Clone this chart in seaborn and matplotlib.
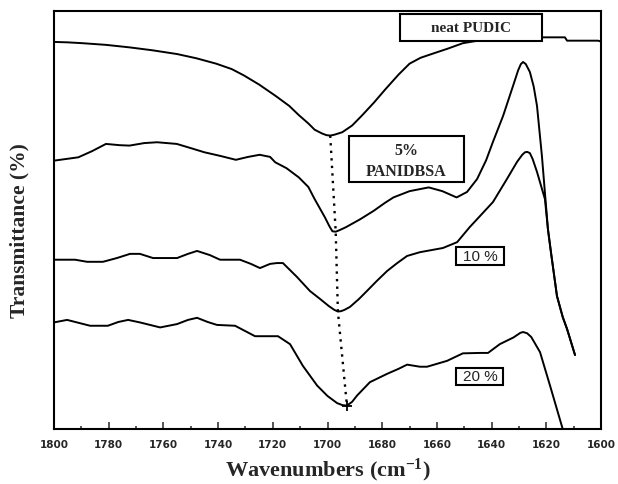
import numpy as np
import seaborn as sns
from matplotlib import pyplot as plt
from matplotlib.patches import Rectangle

# wavenumber (cm-1) / transmittance (arb. %, 0 = bottom of frame, 100 = top)
NEAT_WN = [1800, 1795, 1789.6, 1781, 1772.4, 1764, 1755, 1748, 1740.7, 1735, 1730.6, 1725,
           1719, 1714, 1710.5, 1707, 1704.7, 1702, 1700.4, 1699, 1697.5, 1694.6, 1691, 1687.4,
           1683, 1678.8, 1674, 1670, 1666, 1661.5, 1656, 1650.5, 1645, 1635, 1622,
           1613.2, 1612.4, 1601.1, 1600]
NEAT_T = [92.6, 92.5, 92.3, 91.9, 91.3, 90.6, 89.7, 88.7, 87.4, 86.1, 84.6, 82.4,
          79.7, 77.3, 75.1, 73.1, 71.6, 70.7, 70.3, 70.2, 70.4, 71.0, 72.6, 75.0,
          78.1, 81.3, 84.8, 87.4, 88.8, 89.8, 91.0, 92.3, 92.9, 93.3, 93.7,
          93.7, 92.9, 92.9, 92.7]

P5_WN = [1800, 1791.1, 1786, 1781, 1776, 1772.4, 1767, 1762.3, 1755.1, 1750, 1745, 1739,
         1733.5, 1729, 1724.8, 1721, 1719.1, 1715, 1710.5, 1707, 1704.7, 1701, 1699.3,
         1698.2, 1697, 1695.5, 1693.2, 1688, 1683.1, 1679, 1675.9, 1670, 1663, 1658,
         1652.8, 1649, 1645.3, 1642, 1639.5, 1635.8, 1632, 1630.3, 1629.3, 1628.5, 1627.5,
         1626, 1624.6, 1623.4, 1621.6, 1620.1, 1619.4, 1618.3, 1616.1, 1614, 1612.4, 1609.5]
P5_T = [64.2, 65.0, 66.5, 68.2, 67.9, 67.8, 68.4, 68.6, 68.2, 67.2, 66.2, 65.3,
        64.4, 65.1, 65.6, 65.1, 63.8, 62.4, 60.2, 57.9, 55.0, 50.7, 48.5,
        47.3, 47.2, 47.6, 48.3, 50.2, 52.2, 54.1, 55.4, 56.9, 57.8, 56.9,
        55.4, 56.7, 59.8, 64.3, 68.7, 74.9, 82.4, 85.8, 87.3, 87.8, 87.3,
        85.4, 81.9, 77.3, 65.3, 53.3, 47.8, 42.3, 31.8, 26.8, 23.9, 17.7]

P10_WN = [1800, 1792.3, 1787.9, 1782.1, 1777, 1772.2, 1768.6, 1763.8, 1755, 1751, 1747.7,
          1743, 1739.3, 1732, 1728, 1724.7, 1721, 1718.5, 1716.3, 1711.2, 1706.4, 1702.7,
          1699.5, 1697.5, 1696.2, 1695, 1693.8, 1691.8, 1688.5, 1685.6, 1682, 1678.2, 1674.5,
          1670.9, 1666.2, 1662, 1657.8, 1652.6, 1648, 1645.3, 1639.5, 1634.4, 1630.7, 1628.8,
          1627.8, 1627, 1626, 1625, 1623.4, 1620.5, 1619.4, 1618.3, 1616.1, 1614, 1612.4, 1609.5]
P10_T = [40.5, 40.5, 40.0, 40.0, 40.9, 41.9, 41.9, 40.9, 40.9, 41.9, 42.6,
         41.6, 40.5, 40.5, 39.5, 38.5, 39.5, 39.7, 39.7, 36.4, 33.0, 31.1,
         29.4, 28.5, 28.1, 28.2, 28.5, 29.2, 31.1, 33.0, 35.4, 37.8, 39.7,
         41.4, 42.3, 42.8, 43.3, 44.7, 48.3, 50.2, 54.3, 59.8, 63.9, 65.6,
         66.2, 66.3, 66.0, 64.6, 61.5, 55.0, 47.8, 42.3, 31.8, 26.8, 23.9, 17.7]

P20_WN = [1800, 1795.2, 1791.6, 1786.8, 1780.3, 1776.5, 1772.9, 1768.6, 1761.2, 1755, 1751,
          1747.7, 1743.8, 1740.4, 1733.8, 1730, 1726.5, 1718.1, 1713.7, 1709, 1703.8, 1700,
          1696.5, 1694.5, 1692.9, 1691, 1689.2, 1684.5, 1678.2, 1674, 1670.9, 1666.2, 1663.6,
          1656.3, 1650.5, 1644.2, 1641.3, 1637, 1632, 1629.5, 1628.5, 1627, 1625.5, 1622.3,
          1618.6, 1614, 1611]
P20_T = [25.5, 26.1, 25.5, 24.7, 24.7, 25.6, 26.1, 25.5, 24.3, 25.1, 26.1,
         26.6, 25.6, 24.9, 24.7, 23.4, 22.2, 22.2, 20.3, 15.1, 10.4, 7.9,
         6.2, 5.7, 5.6, 6.5, 8.0, 11.2, 13.2, 14.4, 15.4, 14.9, 14.9,
         16.3, 18.1, 18.2, 18.2, 20.3, 21.9, 23.0, 23.2, 22.9, 22.0, 18.4,
         10.3, 0.0, -6.0]

XTICKS = list(range(1800, 1599, -20))

sns.set_style('white')
plt.rcParams['font.family'] = ['Liberation Serif', 'DejaVu Serif']
plt.rcParams['mathtext.fontset'] = 'custom'
plt.rcParams['mathtext.rm'] = 'Liberation Serif:bold'
plt.rcParams['mathtext.default'] = 'rm'

fig = plt.figure(figsize=(6.18, 4.85), dpi=100)
ax = fig.add_axes([54 / 618, 55 / 485, 547 / 618, 418 / 485])

curves = [(NEAT_WN, NEAT_T), (P5_WN, P5_T), (P10_WN, P10_T), (P20_WN, P20_T)]
for wn, t in curves:
    sns.lineplot(x=wn, y=t, sort=False, estimator=None, color='black', lw=1.4, ax=ax)

# dotted guide through the C=O band minima
min_wn, min_t = [], []
for wn, t in curves:
    wn = np.array(wn)
    t = np.array(t)
    band = (wn > 1685) & (wn < 1715)
    i = np.argmin(t[band])
    min_wn.append(wn[band][i])
    min_t.append(t[band][i])
ax.plot(min_wn, min_t, color='black', ls=(0, (1, 2.2)), lw=1.7)
ax.plot(min_wn[-1], min_t[-1], marker='+', color='black', ms=7, mew=1.3)

ax.set_xlim(1800, 1600)
ax.set_ylim(0, 100)
ax.set_xticks(XTICKS)
ax.set_xticks(list(range(1790, 1600, -20)), minor=True)
ax.set_yticks([])
ax.tick_params(axis='x', which='major', direction='in', length=5, width=1.1, pad=7,
               labelsize=7.5, bottom=True, top=False)
ax.tick_params(axis='x', which='minor', direction='in', length=2.2, width=1.1,
               bottom=True, top=False)
for lab in ax.get_xticklabels():
    lab.set_fontfamily('DejaVu Sans')
    lab.set_fontweight('bold')
for sp in ax.spines.values():
    sp.set_visible(True)
    sp.set_color('black')
    sp.set_linewidth(1.5)

ax.set_xlabel('Wavenumbers (cm$^{-1}$)', fontsize=16, fontweight='bold')
ax.xaxis.set_label_coords(0.5, -0.064)
ax.set_ylabel('Transmittance (%)', fontsize=15.5, fontweight='bold')
ax.yaxis.set_label_coords(-0.044, 0.476)

# label boxes
boxes = [
    (0.6325, 0.929, 0.2596, 0.0639),
    (0.5393, 0.5909, 0.2102, 0.110),
    (0.7358, 0.3923, 0.0868, 0.0431),
    (0.7358, 0.1053, 0.0850, 0.0407),
]
for x0, y0, w, h in boxes:
    ax.add_patch(Rectangle((x0, y0), w, h, transform=ax.transAxes, facecolor='white',
                           edgecolor='black', lw=1.5, zorder=5))

ax.text(0.762, 0.961, 'neat PUDIC', transform=ax.transAxes, ha='center', va='center',
        fontsize=11, fontweight='bold', zorder=6)
ax.text(0.6435, 0.6675, '5%', transform=ax.transAxes, ha='center', va='center',
        fontsize=11.5, fontweight='bold', zorder=6)
ax.text(0.6435, 0.617, 'PANIDBSA', transform=ax.transAxes, ha='center', va='center',
        fontsize=11.5, fontweight='bold', zorder=6)
ax.text(0.7788, 0.4139, '10 %', transform=ax.transAxes, ha='center', va='center',
        fontsize=11, family='Liberation Sans', zorder=6)
ax.text(0.7788, 0.1256, '20 %', transform=ax.transAxes, ha='center', va='center',
        fontsize=11, family='Liberation Sans', zorder=6)

fig.savefig('out.png', dpi=100)
